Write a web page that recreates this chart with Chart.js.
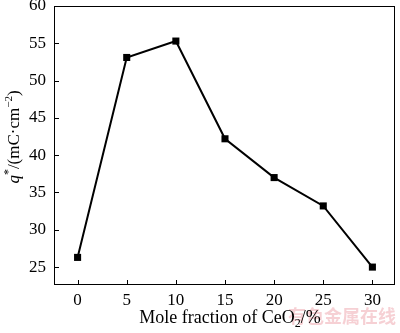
<!DOCTYPE html>
<html>
<head>
<meta charset="utf-8">
<script src="https://cdn.jsdelivr.net/npm/chart.js@4"></script>
<style>
  html, body { margin: 0; padding: 0; background: #fff; }
  #wrap { width: 400px; height: 333px; position: relative; }
</style>
</head>
<body>
<div id="wrap"><canvas id="chart"></canvas></div>
<script>
/* q* vs CeO2 mole fraction */
const fractions = [0, 5, 10, 15, 20, 25, 30];
const qValues   = [26.3, 53.1, 55.3, 42.2, 37.0, 33.2, 25.0];
const xTicks    = [0, 5, 10, 15, 20, 25, 30];
const yTicks    = [25, 30, 35, 40, 45, 50, 55, 60];

const SERIF = '"Liberation Serif", "DejaVu Serif", serif';

// inward ticks, frame, axis titles
const decor = {
  id: 'decor',
  afterDraw(chart) {
    const { ctx, chartArea: a, scales: { x, y } } = chart;
    ctx.save();
    ctx.strokeStyle = '#000';
    ctx.lineWidth = 1;
    ctx.strokeRect(a.left + 0.5, a.top + 0.5, a.right - a.left - 1, a.bottom - a.top - 1);
    ctx.beginPath();
    xTicks.forEach(v => {
      const px = Math.round(x.getPixelForValue(v)) + 0.5;
      ctx.moveTo(px, a.bottom); ctx.lineTo(px, a.bottom - 5);
    });
    yTicks.forEach(v => {
      const py = Math.round(y.getPixelForValue(v)) + 0.5;
      ctx.moveTo(a.left, py); ctx.lineTo(a.left + 5, py);
    });
    ctx.stroke();

    // watermark (behind the title)
    ctx.fillStyle = 'rgba(235,150,160,0.45)';
    ctx.font = 'bold 18px "Noto Sans CJK SC", sans-serif';
    ctx.textAlign = 'right';
    ctx.textBaseline = 'alphabetic';
    ctx.fillText('有色金属在线', 396, 323);
    ctx.textAlign = 'left';

    // x title
    ctx.fillStyle = '#000';
    const cx = 230;
    const p1 = 'Mole fraction of CeO', p2 = '2', p3 = '/%';
    ctx.font = '18px ' + SERIF;
    const w1 = ctx.measureText(p1).width, w3 = ctx.measureText(p3).width;
    ctx.font = '12px ' + SERIF;
    const w2 = ctx.measureText(p2).width;
    let sx = cx - (w1 + w2 + w3) / 2;
    const by = 323;
    ctx.font = '18px ' + SERIF;
    ctx.fillText(p1, sx, by); sx += w1;
    ctx.font = '12px ' + SERIF;
    ctx.fillText(p2, sx, by + 4); sx += w2;
    ctx.font = '18px ' + SERIF;
    ctx.fillText(p3, sx, by);

    // y title, rotated
    ctx.save();
    ctx.translate(19, 137);
    ctx.rotate(-Math.PI / 2);
    const parts = [
      { t: 'q', f: 'italic 17px ' + SERIF, dy: 0 },
      { t: '*', f: '12px ' + SERIF, dy: -7 },
      { t: '/(mC\u00b7cm', f: '17px ' + SERIF, dy: 0 },
      { t: '\u22122', f: '11px ' + SERIF, dy: -7 },
      { t: ')', f: '17px ' + SERIF, dy: 0 }
    ];
    let tw = 0;
    parts.forEach(p => { ctx.font = p.f; p.w = ctx.measureText(p.t).width; tw += p.w; });
    let tx = -tw / 2;
    parts.forEach(p => { ctx.font = p.f; ctx.fillText(p.t, tx, p.dy); tx += p.w; });
    ctx.restore();
    ctx.restore();
  }
};

new Chart(document.getElementById('chart'), {
  type: 'line',
  data: {
    datasets: [{
      data: fractions.map((f, i) => ({ x: f, y: qValues[i] })),
      borderColor: '#000',
      backgroundColor: '#000',
      borderWidth: 2,
      pointStyle: 'rect',
      pointRadius: 5,
      pointBorderWidth: 0,
      tension: 0
    }]
  },
  options: {
    responsive: true, maintainAspectRatio: false,
    animation: false,
    layout: { padding: { top: 6, right: 2, left: 0, bottom: 0 } },
    plugins: { legend: { display: false }, tooltip: { enabled: false } },
    scales: {
      x: {
        type: 'linear', min: -2.4, max: 32.3,
        grid: { display: false, drawTicks: false }, border: { display: false },
        afterBuildTicks: s => { s.ticks = xTicks.map(v => ({ value: v })); },
        afterFit: s => { s.height = 48; s.paddingLeft = 0; s.paddingRight = 0; },
        ticks: { font: { family: SERIF, size: 17 }, color: '#000', padding: 5, maxRotation: 0 }
      },
      y: {
        min: 22.6, max: 60,
        grid: { display: false, drawTicks: false }, border: { display: false },
        afterBuildTicks: s => { s.ticks = yTicks.map(v => ({ value: v })); },
        afterFit: s => { s.width = 54; s.paddingTop = 0; s.paddingBottom = 0; },
        ticks: { font: { family: SERIF, size: 17 }, color: '#000', padding: 8 }
      }
    }
  },
  plugins: [decor]
});
</script>
</body>
</html>
